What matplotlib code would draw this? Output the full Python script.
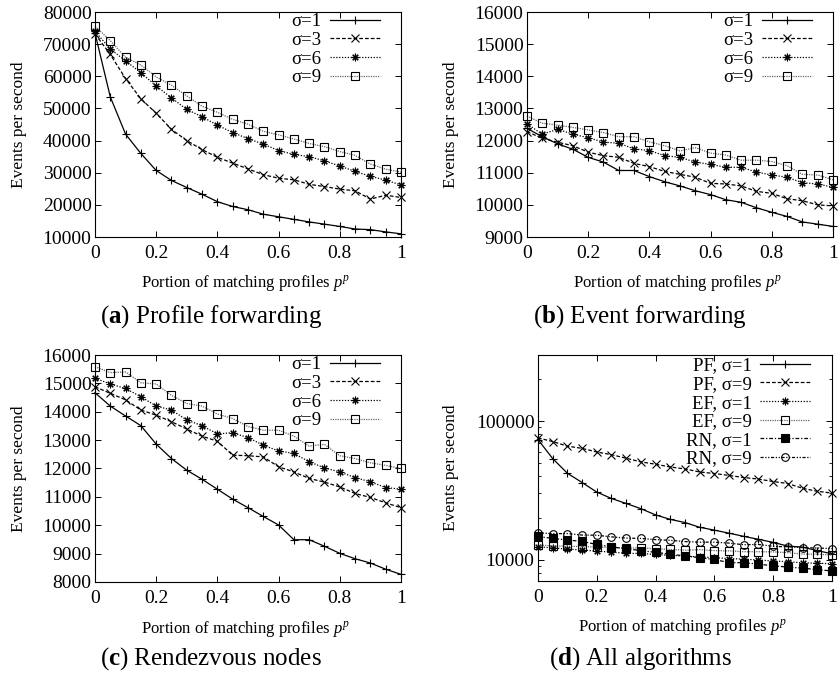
import matplotlib
matplotlib.use("Agg")
import matplotlib.pyplot as plt
from matplotlib.ticker import FixedLocator, LogLocator, NullFormatter, FixedFormatter

plt.rcParams["font.family"] = ["Liberation Serif", "DejaVu Serif"]
plt.rcParams["mathtext.fontset"] = "custom"
plt.rcParams["mathtext.rm"] = "Liberation Serif"
plt.rcParams["mathtext.it"] = "Liberation Serif:italic"
plt.rcParams["mathtext.bf"] = "Liberation Serif:bold"

# portion of matching profiles
x = [0.0, 0.05, 0.1, 0.15, 0.2, 0.25, 0.3, 0.35, 0.4, 0.45, 0.5,
     0.55, 0.6, 0.65, 0.7, 0.75, 0.8, 0.85, 0.9, 0.95, 1.0]

# (a) profile forwarding
pf_s1 = [73500, 53600, 42000, 36000, 30700, 27600, 25400, 23300, 21000, 19500, 18500,
         17100, 16300, 15500, 14700, 14000, 13300, 12500, 12300, 11600, 11000]
pf_s3 = [73200, 66800, 59300, 53000, 48500, 43500, 40000, 37200, 34800, 33000, 31200,
         29400, 28300, 27800, 26400, 25700, 24900, 24400, 21800, 23000, 22300]
pf_s6 = [74000, 68500, 64800, 61100, 57000, 53300, 49700, 47400, 44800, 42500, 40600,
         38900, 36900, 35700, 35000, 33700, 32100, 30400, 28900, 27700, 26200]
pf_s9 = [75600, 71100, 65900, 63500, 59800, 57200, 53900, 50700, 48800, 46600, 45100,
         42900, 41800, 40500, 39100, 38100, 36600, 35400, 32700, 31100, 30200]

# (b) event forwarding
ef_s1 = [12380, 12120, 11900, 11730, 11480, 11330, 11070, 11070, 10880, 10720, 10590,
         10440, 10320, 10160, 10080, 9910, 9770, 9640, 9470, 9400, 9330]
ef_s3 = [12280, 12070, 11950, 11840, 11640, 11530, 11480, 11290, 11190, 11040, 10950,
         10860, 10670, 10650, 10590, 10420, 10360, 10190, 10130, 10000, 9970]
ef_s6 = [12520, 12200, 12350, 12200, 12090, 11950, 11920, 11740, 11690, 11530, 11480,
         11330, 11260, 11170, 11170, 11020, 10930, 10860, 10690, 10650, 10550]
ef_s9 = [12760, 12540, 12480, 12410, 12330, 12250, 12120, 12120, 11960, 11840, 11680,
         11780, 11610, 11550, 11390, 11390, 11350, 11220, 10950, 10930, 10780]

# (c) rendezvous nodes
rn_s1 = [14670, 14200, 13850, 13510, 12860, 12350, 11940, 11620, 11270, 10920, 10620,
         10310, 10010, 9490, 9490, 9260, 9010, 8820, 8670, 8450, 8270]
rn_s3 = [14880, 14650, 14420, 14060, 13880, 13650, 13390, 13140, 12960, 12470, 12450,
         12410, 12060, 11880, 11650, 11520, 11350, 11120, 10980, 10790, 10620]
rn_s6 = [15180, 14980, 14820, 14530, 14200, 14060, 13710, 13510, 13220, 13260, 13090,
         12820, 12620, 12530, 12240, 12020, 11880, 11680, 11530, 11330, 11270]
rn_s9 = [15590, 15380, 15400, 15020, 14980, 14580, 14290, 14200, 13920, 13760, 13480,
         13350, 13350, 13140, 12790, 12850, 12450, 12350, 12200, 12110, 12000]

sigma_labels = ["σ=1", "σ=3", "σ=6", "σ=9"]
all_labels = ["PF, σ=1", "PF, σ=9", "EF, σ=1", "EF, σ=9", "RN, σ=1", "RN, σ=9"]
x_ticks = [0, 0.2, 0.4, 0.6, 0.8, 1]
x_ticklabels = ["0", "0.2", "0.4", "0.6", "0.8", "1"]

# gnuplot-like line/point styles
ASTER = (8, 2, 0)
st_s1 = dict(color="black", ls="-", marker="+")
st_s3 = dict(color="black", ls=(0, (3, 1.6)), marker="x")
st_s6 = dict(color="black", ls=(0, (1, 1.3)), marker=ASTER)
st_s9 = dict(color="#666666", ls=(0, (1, 0.9)), marker="s", mfc="none", mec="black")
st_rn1 = dict(color="black", ls=(0, (3, 1.5, 1, 1.5)), marker="s", mfc="black", mec="black")
st_rn9 = dict(color="black", ls=(0, (2.5, 1.3, 1, 1.3, 1, 1.3)), marker="o", mfc="none", mec="black")

TICK_FS = 14
LEG_FS = 13.5


def style_axes(ax, ylabel_x):
    ax.set_xlim(0, 1)
    ax.xaxis.set_major_locator(FixedLocator(x_ticks))
    ax.xaxis.set_major_formatter(FixedFormatter(x_ticklabels))
    ax.tick_params(direction="in", top=True, right=True, length=4, width=0.7,
                   labelsize=TICK_FS)
    ax.tick_params(axis="x", pad=6)
    ax.tick_params(axis="y", pad=2.5)
    ax.tick_params(which="minor", direction="in", right=True, length=2.5, width=0.6)
    for sp in ax.spines.values():
        sp.set_linewidth(0.8)
    ax.set_xlabel(r"Portion of matching profiles $p^p$", fontsize=12, va="center")
    ax.xaxis.set_label_coords(0.49, -0.205)
    ax.set_ylabel("Events per second", fontsize=12.5, va="center")
    ax.yaxis.set_label_coords(ylabel_x, 0.5)


def add_legend(ax, anchor):
    ax.legend(loc="upper right", bbox_to_anchor=anchor, frameon=False,
              markerfirst=False, fontsize=LEG_FS, handlelength=2.65,
              handletextpad=0.45, labelspacing=0.08, borderpad=0,
              borderaxespad=0)


fig = plt.figure(figsize=(8.39, 6.78), dpi=100)

ax_a = fig.add_axes([0.1132, 0.6504, 0.3647, 0.3319])
ax_b = fig.add_axes([0.6281, 0.6504, 0.3647, 0.3319])
ax_c = fig.add_axes([0.1132, 0.1416, 0.3647, 0.3348])
ax_d = fig.add_axes([0.6412, 0.1431, 0.3504, 0.3333])

MS = dict(markersize=5.5, markeredgewidth=0.8, linewidth=0.9)

for ax, series, ylim, yticks in [
    (ax_a, [pf_s1, pf_s3, pf_s6, pf_s9], (10000, 80000), range(10000, 80001, 10000)),
    (ax_b, [ef_s1, ef_s3, ef_s6, ef_s9], (9000, 16000), range(9000, 16001, 1000)),
    (ax_c, [rn_s1, rn_s3, rn_s6, rn_s9], (8000, 16000), range(8000, 16001, 1000)),
]:
    for ys, st, lab in zip(series, [st_s1, st_s3, st_s6, st_s9], sigma_labels):
        ax.plot(x, ys, label=lab, clip_on=False, **st, **MS)
    ax.set_ylim(*ylim)
    ax.yaxis.set_major_locator(FixedLocator(list(yticks)))
    style_axes(ax, -0.248)
    add_legend(ax, (0.931, 0.995))

# (d) all algorithms, log scale
d_series = [pf_s1, pf_s9, ef_s1, ef_s9, rn_s1, rn_s9]
d_styles = [st_s1, st_s3, st_s6, st_s9, st_rn1, st_rn9]
for ys, st, lab in zip(d_series, d_styles, all_labels):
    ax_d.plot(x, ys, label=lab, clip_on=False, **st, **MS)
ax_d.set_yscale("log")
ax_d.set_ylim(7000, 300000)
ax_d.yaxis.set_major_locator(FixedLocator([10000, 100000]))
ax_d.yaxis.set_major_formatter(FixedFormatter(["10000", "100000"]))
ax_d.yaxis.set_minor_locator(LogLocator(base=10, subs=range(2, 10)))
ax_d.yaxis.set_minor_formatter(NullFormatter())
style_axes(ax_d, -0.296)
add_legend(ax_d, (0.925, 0.99))

# captions
cap_fs = 18
fig.text(211 / 839, 1 - 317 / 678, r"($\mathbf{a}$) Profile forwarding", ha="center", va="center", fontsize=cap_fs)
fig.text(640 / 839, 1 - 317 / 678, r"($\mathbf{b}$) Event forwarding", ha="center", va="center", fontsize=cap_fs)
fig.text(211 / 839, 1 - 659 / 678, r"($\mathbf{c}$) Rendezvous nodes", ha="center", va="center", fontsize=cap_fs)
fig.text(640 / 839, 1 - 659 / 678, r"($\mathbf{d}$) All algorithms", ha="center", va="center", fontsize=cap_fs)

fig.savefig("out.png", dpi=100)
